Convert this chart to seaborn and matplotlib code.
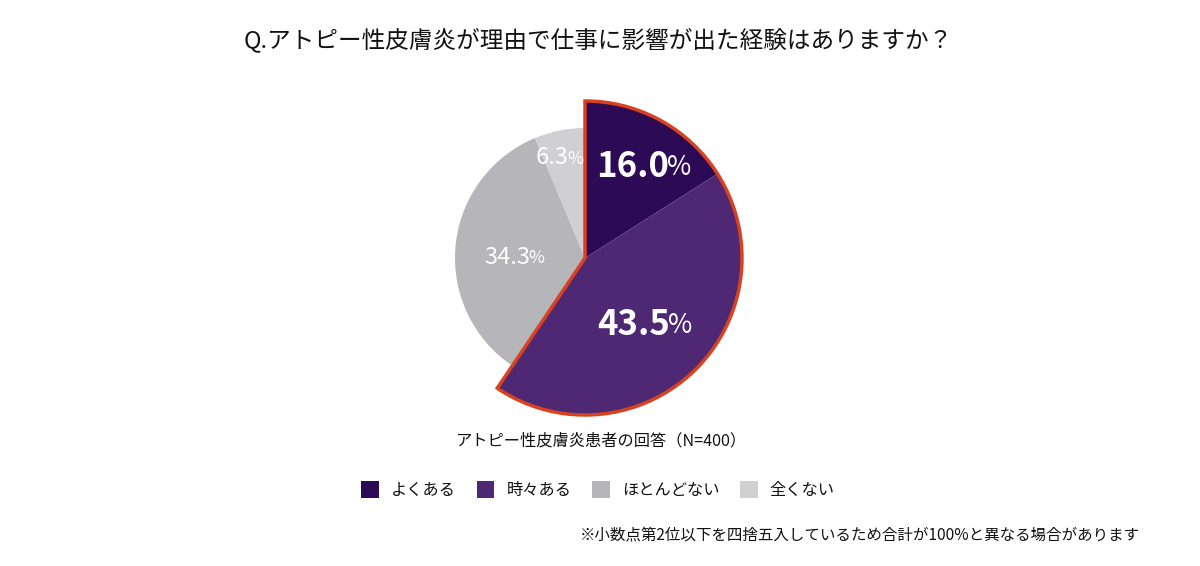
import numpy as np
import matplotlib
matplotlib.use("Agg")
import matplotlib.pyplot as plt
from matplotlib.patches import Wedge, Patch
import seaborn as sns

categories = ["よくある", "時々ある", "ほとんどない", "全くない"]
values = [16.0, 43.5, 34.3, 6.3]
colors = ["#2d0a55", "#4f2873", "#b6b5b9", "#d0cfd2"]

title = "Q.アトピー性皮膚炎が理由で仕事に影響が出た経験はありますか？"
subtitle = "アトピー性皮膚炎患者の回答（N=400）"
footnote = "※小数点第2位以下を四捨五入しているため合計が100%と異なる場合があります"

sns.set_theme(style="white")
plt.rcParams['font.family'] = ['Noto Sans CJK JP', 'DejaVu Sans']

W, H = 1200, 566
fig = plt.figure(figsize=(W / 100, H / 100), dpi=100)
ax = fig.add_axes([0, 0, 1, 1])

cx, cy = 585, H - 258
R_big, R_small = 157, 130
wedges, _ = ax.pie(values, colors=colors, startangle=90, counterclock=False,
                   center=(cx, cy), radius=R_big, frame=True,
                   wedgeprops=dict(linewidth=0))
ax.set_xlim(0, W)
ax.set_ylim(0, H)
ax.set_aspect('equal')
ax.axis('off')
for w in wedges[2:]:
    w.set_radius(R_small)

# red outline around highlighted group
outline = Wedge((cx, cy), R_big, wedges[1].theta1, wedges[0].theta2,
                fill=False, edgecolor="#d8421f", linewidth=2.5, zorder=5)
ax.add_patch(outline)

# labels
label_dist = [109, 90.6, 69, 104.5]
label_shift = [-4.6, -1.8, 5.1, 5.5]
big = [True, True, False, False]
for w, v, d, b, s in zip(wedges, values, label_dist, big, label_shift):
    mid = np.deg2rad((w.theta1 + w.theta2) / 2 + s)
    x = cx + d * np.cos(mid)
    y = cy + d * np.sin(mid)
    if b:
        ax.text(x + 24, y, f"{v:.1f}", ha='right', va='center', fontsize=25,
                fontweight='bold', color='white', zorder=6)
        ax.text(x + 22, y - 1, "%", ha='left', va='center', fontsize=19,
                color='white', zorder=6)
    else:
        ax.text(x + 14, y, f"{v:.1f}", ha='right', va='center', fontsize=17,
                color='white', zorder=6)
        ax.text(x + 12.5, y - 1, "%", ha='left', va='center', fontsize=12.5,
                color='white', zorder=6)

fig.text(598 / W, 1 - 40 / H, title, ha='center', va='center', fontsize=17, color='#111111')
fig.text(602 / W, 1 - 441 / H, subtitle, ha='center', va='center', fontsize=11.7, color='#111111')
fig.text(1140 / W, 1 - 535 / H, footnote, ha='right', va='center', fontsize=11.2, color='#111111')

handles = [Patch(facecolor=c, edgecolor='none', label=l) for c, l in zip(colors, categories)]
leg = fig.legend(handles=handles, loc='center', bbox_to_anchor=(598 / W, 1 - 490 / H),
                 ncol=4, frameon=False, fontsize=11.7, handlelength=1.1, handleheight=1.2,
                 handletextpad=0.75, columnspacing=1.25)
for t in leg.get_texts():
    t.set_color('#111111')

fig.savefig("out.png", dpi=100, facecolor='white')
